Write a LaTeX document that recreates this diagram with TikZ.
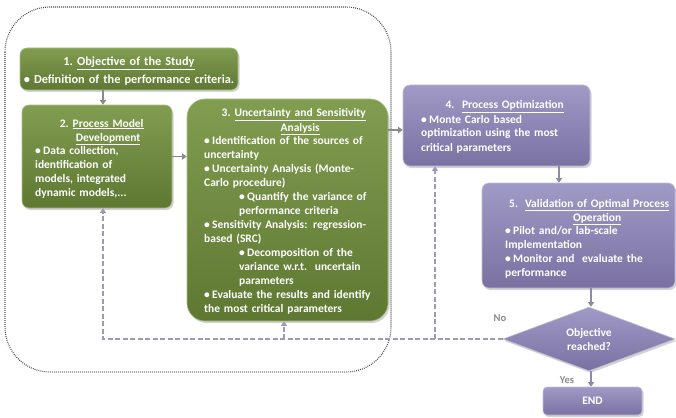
\documentclass[tikz,border=0pt]{standalone}
\usepackage{fontspec}
\setmainfont{Carlito}
\usetikzlibrary{arrows.meta,shapes.geometric,shadows}
\definecolor{gtop}{HTML}{819D50}
\definecolor{gbot}{HTML}{5E7832}
\definecolor{gline}{HTML}{A9BE86}
\definecolor{ptop}{HTML}{A09AC6}
\definecolor{pbot}{HTML}{7A71A2}
\definecolor{pline}{HTML}{C2BDDA}
\definecolor{arrg}{HTML}{8A8A8A}
\definecolor{arrp}{HTML}{8D89A9}
\definecolor{fbcol}{HTML}{9D99BA}
\newlength\bw
\setlength\bw{8pt}
\newcommand{\bitem}[1]{\par\hangindent=\bw\hangafter=1\noindent\makebox[\bw][l]{\textbullet}#1\par}
\newcommand{\sitem}[1]{\par\leftskip=35pt\hangindent=\bw\hangafter=1\noindent\makebox[\bw][l]{\textbullet}#1\par\leftskip=0pt}
\begin{document}
\begin{tikzpicture}[x=1pt,y=-1pt,
  gbox/.style={rectangle, rounded corners=7pt, top color=gtop, bottom color=gbot, draw=gline, line width=0.6pt,
    drop shadow={opacity=0.35, shadow xshift=1.5pt, shadow yshift=-2pt}, inner sep=0pt},
  pbox/.style={rectangle, rounded corners=7pt, top color=ptop, bottom color=pbot, draw=pline, line width=0.6pt,
    drop shadow={opacity=0.35, shadow xshift=1.5pt, shadow yshift=-2pt}, inner sep=0pt},
  txt/.style={text=white, font=\fontsize{11.5}{14}\bfseries\selectfont, inner sep=0pt},
  arr/.style={draw=arrg, line width=1.8pt, -{Triangle[width=6pt,length=4.5pt]}},
  arrpu/.style={draw=arrp, line width=1.8pt, -{Triangle[width=6pt,length=4.5pt]}},
  fb/.style={draw=fbcol, line width=1.8pt, dash pattern=on 5pt off 2.5pt},
  fbarr/.style={fb, -{Triangle[width=6pt,length=4.5pt]}},
  lbl/.style={text=arrg, font=\fontsize{10.5}{12}\bfseries\selectfont, inner sep=0pt}
]
\useasboundingbox (0,0) rectangle (676,417);

% outer dotted frame
\draw[black!70, line width=1.1pt, dash pattern=on 0.9pt off 1.1pt, rounded corners=45pt] (5,7) rectangle (391,372);

% boxes
\node[gbox, minimum width=218pt, minimum height=42pt] (b1) at (129,69) {};
\node[gbox, minimum width=150pt, minimum height=103pt] (b2) at (97,156.5) {};
\node[gbox, minimum width=201pt, minimum height=222pt, rounded corners=18pt] (b3) at (287.5,210) {};
\node[pbox, minimum width=187pt, minimum height=81pt] (b4) at (496.5,125.5) {};
\node[pbox, minimum width=193pt, minimum height=105pt] (b5) at (578.5,235.5) {};
\node[diamond, top color=ptop, bottom color=pbot, draw=pline, line width=0.6pt,
  drop shadow={opacity=0.35, shadow xshift=1.5pt, shadow yshift=-2pt},
  minimum width=172pt, minimum height=64pt, inner sep=0pt] (dia) at (589,339) {};
\node[pbox, rounded corners=4pt, minimum width=99pt, minimum height=28pt] (end) at (592.5,401) {};

% texts
\node[txt, font=\fontsize{12.3}{14}\bfseries\selectfont, align=center, anchor=base, text width=216pt] (t1) at (129,66)
  {1.~\underline{Objective of the Study}\\[4pt]\textbullet\ Definition of the performance criteria.};

\node[txt, anchor=base west, text width=133pt, align=left] (t2) at (35,127)
  {{\centering\begin{tabular}[t]{@{}l@{\hspace{4pt}}c@{}}2.&\underline{Process Model}\\&\underline{Development}\end{tabular}\par}
   \bitem{Data collection,\\identification of\\models, integrated\\dynamic models,...}};

\node[txt, anchor=base west, text width=179pt, align=left] (t3) at (204,117)
  {{\centering\begin{tabular}[t]{@{}l@{\hspace{4pt}}c@{}}3.&\underline{Uncertainty and Sensitivity}\\&\underline{Analysis}\end{tabular}\par}
   \bitem{Identification of the sources of\\uncertainty}
   \bitem{Uncertainty Analysis (Monte-\\Carlo procedure)}
   \sitem{Quantify the variance of\\performance criteria}
   \bitem{Sensitivity Analysis: regression-\\based (SRC)}
   \sitem{Decomposition of the\\variance w.r.t.\ \ uncertain\\parameters}
   \bitem{Evaluate the results and identify\\the most critical parameters}};

\node[txt, anchor=base west, text width=167pt, align=left] (t4) at (421,109)
  {{\centering 4.~~\underline{Process Optimization}\par}
   \bitem{Monte Carlo based\\optimization using the most\\critical parameters}};

\node[txt, anchor=base west, text width=168pt, align=left] (t5) at (505,207)
  {{\centering\begin{tabular}[t]{@{}l@{\hspace{7pt}}c@{}}5.&\underline{Validation of Optimal Process}\\&\underline{Operation}\end{tabular}\par}
   \bitem{Pilot and/or lab-scale\\Implementation}
   \bitem{Monitor and\ \ evaluate the\\performance}};

\node[txt, align=center] (td) at (dia.center) {Objective\\reached?};
\node[txt] (te) at (end.center) {END};

\node[lbl] (no) at (500,318) {No};
\node[lbl] (yes) at (567,380) {Yes};

% helper x positions
\coordinate (x1) at (103,0);
\coordinate (x3) at (284,0);
\coordinate (x4) at (435,0);
\coordinate (y34) at (0,130);
\coordinate (x45) at (559,0);
\coordinate (x5d) at (591,0);

% solid connectors
\draw[arr] (b1.south -| x1) -- (b2.north -| x1);
\draw[arr] (b2.east) -- (b2.east -| b3.west);
\draw[arr] (b3.east |- y34) -- (b4.west |- y34);
\draw[arrpu] (b4.south -| x45) -- (b5.north -| x45);
\draw[arrpu] (b5.south -| x5d) -- (dia.north -| x5d);
\draw[arrpu] (dia.south -| x5d) -- (end.north -| x5d);

% feedback (dashed)
\draw[fbarr] (dia.west) -- (dia.west -| x1) -- (b2.south -| x1);
\draw[fbarr] (dia.west -| x3) -- (b3.south -| x3);
\draw[fbarr] (dia.west -| x4) -- (b4.south -| x4);
\end{tikzpicture}
\end{document}
